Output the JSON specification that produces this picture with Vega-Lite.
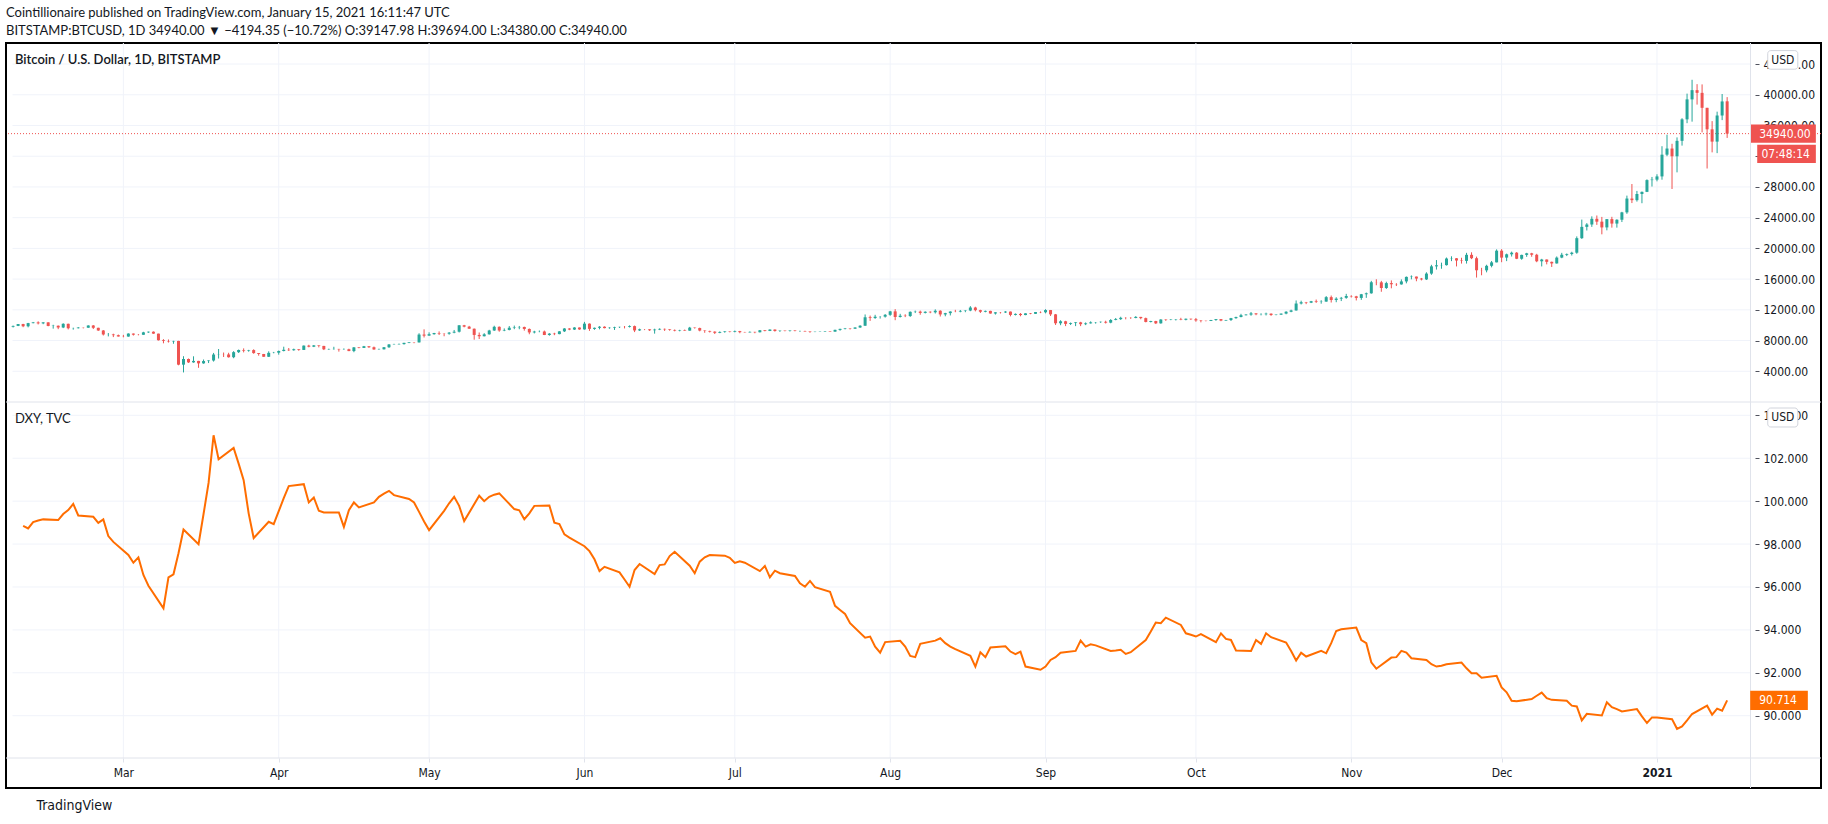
{
  "$schema": "https://vega.github.io/schema/vega-lite/v6.json",
  "width": 1815,
  "height": 745,
  "autosize": {"type": "none"},
  "padding": {"left": 6, "top": 43, "right": 7, "bottom": 36},
  "background": "#ffffff",
  "title": {
    "text": "Cointillionaire published on TradingView.com, January 15, 2021 16:11:47 UTC",
    "subtitle": "BITSTAMP:BTCUSD, 1D  34940.00 ▼ −4194.35 (−10.72%)  O:39147.98  H:39694.00  L:34380.00  C:34940.00",
    "anchor": "start",
    "frame": "group",
    "offset": 5,
    "font": "Lato",
    "fontSize": 13,
    "fontWeight": "normal",
    "color": "#131722",
    "subtitleFont": "Lato",
    "subtitleFontSize": 13,
    "subtitleColor": "#131722",
    "subtitlePadding": 5
  },
  "config": {
    "view": {"stroke": "#000000", "strokeWidth": 2},
    "axis": {
      "labelFont": "DejaVu Sans Condensed",
      "labelFontSize": 12,
      "labelColor": "#131722",
      "grid": false,
      "domain": false,
      "zindex": 0
    }
  },
  "datasets": {
    "btc": [
      {"d":"2020-02-08","o":9800,"h":9950,"l":9700,"c":9905},
      {"d":"2020-02-09","o":9905,"h":10150,"l":9880,"c":10150},
      {"d":"2020-02-10","o":10150,"h":10180,"l":9740,"c":9860},
      {"d":"2020-02-11","o":9860,"h":10300,"l":9720,"c":10270},
      {"d":"2020-02-12","o":10270,"h":10420,"l":10240,"c":10360},
      {"d":"2020-02-13","o":10360,"h":10500,"l":10100,"c":10240},
      {"d":"2020-02-14","o":10240,"h":10390,"l":10130,"c":10370},
      {"d":"2020-02-15","o":10370,"h":10380,"l":9860,"c":9900},
      {"d":"2020-02-16","o":9900,"h":10050,"l":9550,"c":9930},
      {"d":"2020-02-17","o":9930,"h":9960,"l":9480,"c":9700},
      {"d":"2020-02-18","o":9700,"h":10250,"l":9620,"c":10180},
      {"d":"2020-02-19","o":10180,"h":10200,"l":9450,"c":9600},
      {"d":"2020-02-20","o":9600,"h":9680,"l":9420,"c":9610},
      {"d":"2020-02-21","o":9610,"h":9760,"l":9570,"c":9690},
      {"d":"2020-02-22","o":9690,"h":9700,"l":9580,"c":9670},
      {"d":"2020-02-23","o":9670,"h":9990,"l":9660,"c":9960},
      {"d":"2020-02-24","o":9960,"h":10020,"l":9500,"c":9660},
      {"d":"2020-02-25","o":9660,"h":9670,"l":9260,"c":9310},
      {"d":"2020-02-26","o":9310,"h":9370,"l":8660,"c":8790},
      {"d":"2020-02-27","o":8790,"h":8980,"l":8540,"c":8795},
      {"d":"2020-02-28","o":8795,"h":8890,"l":8450,"c":8700},
      {"d":"2020-02-29","o":8700,"h":8780,"l":8520,"c":8530},
      {"d":"2020-03-01","o":8530,"h":8740,"l":8420,"c":8520},
      {"d":"2020-03-02","o":8520,"h":8940,"l":8500,"c":8910},
      {"d":"2020-03-03","o":8910,"h":8920,"l":8650,"c":8760},
      {"d":"2020-03-04","o":8760,"h":8840,"l":8680,"c":8750},
      {"d":"2020-03-05","o":8750,"h":9140,"l":8750,"c":9070},
      {"d":"2020-03-06","o":9070,"h":9170,"l":9000,"c":9150},
      {"d":"2020-03-07","o":9150,"h":9190,"l":8870,"c":8900},
      {"d":"2020-03-08","o":8900,"h":8900,"l":8000,"c":8040},
      {"d":"2020-03-09","o":8040,"h":8180,"l":7640,"c":7940},
      {"d":"2020-03-10","o":7940,"h":8140,"l":7740,"c":7890},
      {"d":"2020-03-11","o":7890,"h":7970,"l":7580,"c":7950},
      {"d":"2020-03-12","o":7950,"h":7970,"l":4780,"c":4860},
      {"d":"2020-03-13","o":4860,"h":5960,"l":3850,"c":5600},
      {"d":"2020-03-14","o":5600,"h":5660,"l":5080,"c":5160},
      {"d":"2020-03-15","o":5160,"h":5950,"l":5110,"c":5350},
      {"d":"2020-03-16","o":5350,"h":5360,"l":4450,"c":5030},
      {"d":"2020-03-17","o":5030,"h":5530,"l":4980,"c":5330},
      {"d":"2020-03-18","o":5330,"h":5430,"l":5070,"c":5400},
      {"d":"2020-03-19","o":5400,"h":6390,"l":5260,"c":6180},
      {"d":"2020-03-20","o":6180,"h":6900,"l":5660,"c":6200},
      {"d":"2020-03-21","o":6200,"h":6440,"l":5860,"c":6190},
      {"d":"2020-03-22","o":6190,"h":6410,"l":5780,"c":5830},
      {"d":"2020-03-23","o":5830,"h":6620,"l":5700,"c":6490},
      {"d":"2020-03-24","o":6490,"h":6830,"l":6380,"c":6770},
      {"d":"2020-03-25","o":6770,"h":6980,"l":6460,"c":6690},
      {"d":"2020-03-26","o":6690,"h":6790,"l":6550,"c":6760},
      {"d":"2020-03-27","o":6760,"h":6860,"l":6280,"c":6370},
      {"d":"2020-03-28","o":6370,"h":6370,"l":6030,"c":6250},
      {"d":"2020-03-29","o":6250,"h":6260,"l":5880,"c":5890},
      {"d":"2020-03-30","o":5890,"h":6600,"l":5860,"c":6400},
      {"d":"2020-03-31","o":6400,"h":6520,"l":6340,"c":6420},
      {"d":"2020-04-01","o":6420,"h":6700,"l":6160,"c":6640},
      {"d":"2020-04-02","o":6640,"h":7200,"l":6590,"c":6800},
      {"d":"2020-04-03","o":6800,"h":7030,"l":6640,"c":6740},
      {"d":"2020-04-04","o":6740,"h":6950,"l":6680,"c":6870},
      {"d":"2020-04-05","o":6870,"h":6890,"l":6670,"c":6780},
      {"d":"2020-04-06","o":6780,"h":7360,"l":6770,"c":7340},
      {"d":"2020-04-07","o":7340,"h":7450,"l":7120,"c":7200},
      {"d":"2020-04-08","o":7200,"h":7420,"l":7150,"c":7370},
      {"d":"2020-04-09","o":7370,"h":7380,"l":7110,"c":7300},
      {"d":"2020-04-10","o":7300,"h":7310,"l":6760,"c":6860},
      {"d":"2020-04-11","o":6860,"h":6950,"l":6780,"c":6890},
      {"d":"2020-04-12","o":6890,"h":7190,"l":6810,"c":6910},
      {"d":"2020-04-13","o":6910,"h":6920,"l":6560,"c":6860},
      {"d":"2020-04-14","o":6860,"h":6980,"l":6790,"c":6870},
      {"d":"2020-04-15","o":6870,"h":6940,"l":6620,"c":6630},
      {"d":"2020-04-16","o":6630,"h":7160,"l":6480,"c":7110},
      {"d":"2020-04-17","o":7110,"h":7150,"l":6990,"c":7040},
      {"d":"2020-04-18","o":7040,"h":7300,"l":7030,"c":7260},
      {"d":"2020-04-19","o":7260,"h":7260,"l":7040,"c":7130},
      {"d":"2020-04-20","o":7130,"h":7220,"l":6800,"c":6840},
      {"d":"2020-04-21","o":6840,"h":6950,"l":6790,"c":6860},
      {"d":"2020-04-22","o":6860,"h":7160,"l":6840,"c":7130},
      {"d":"2020-04-23","o":7130,"h":7550,"l":7040,"c":7490},
      {"d":"2020-04-24","o":7490,"h":7580,"l":7450,"c":7510},
      {"d":"2020-04-25","o":7510,"h":7620,"l":7460,"c":7540},
      {"d":"2020-04-26","o":7540,"h":7710,"l":7470,"c":7700},
      {"d":"2020-04-27","o":7700,"h":7800,"l":7660,"c":7780},
      {"d":"2020-04-28","o":7780,"h":7790,"l":7650,"c":7760},
      {"d":"2020-04-29","o":7760,"h":8950,"l":7740,"c":8780},
      {"d":"2020-04-30","o":8780,"h":9460,"l":8400,"c":8640},
      {"d":"2020-05-01","o":8640,"h":9070,"l":8630,"c":8830},
      {"d":"2020-05-02","o":8830,"h":9000,"l":8760,"c":8980},
      {"d":"2020-05-03","o":8980,"h":9190,"l":8720,"c":8910},
      {"d":"2020-05-04","o":8910,"h":8950,"l":8560,"c":8890},
      {"d":"2020-05-05","o":8890,"h":9110,"l":8760,"c":9030},
      {"d":"2020-05-06","o":9030,"h":9380,"l":8950,"c":9150},
      {"d":"2020-05-07","o":9150,"h":9990,"l":9050,"c":9990},
      {"d":"2020-05-08","o":9990,"h":10040,"l":9720,"c":9810},
      {"d":"2020-05-09","o":9810,"h":9910,"l":9520,"c":9540},
      {"d":"2020-05-10","o":9540,"h":9570,"l":8110,"c":8730},
      {"d":"2020-05-11","o":8730,"h":9050,"l":8200,"c":8560},
      {"d":"2020-05-12","o":8560,"h":8960,"l":8540,"c":8810},
      {"d":"2020-05-13","o":8810,"h":9400,"l":8780,"c":9310},
      {"d":"2020-05-14","o":9310,"h":9930,"l":9260,"c":9790},
      {"d":"2020-05-15","o":9790,"h":9840,"l":9150,"c":9310},
      {"d":"2020-05-16","o":9310,"h":9580,"l":9220,"c":9380},
      {"d":"2020-05-17","o":9380,"h":9890,"l":9330,"c":9670},
      {"d":"2020-05-18","o":9670,"h":9950,"l":9480,"c":9730},
      {"d":"2020-05-19","o":9730,"h":9900,"l":9470,"c":9770},
      {"d":"2020-05-20","o":9770,"h":9810,"l":9290,"c":9510},
      {"d":"2020-05-21","o":9510,"h":9570,"l":8820,"c":9060},
      {"d":"2020-05-22","o":9060,"h":9270,"l":8930,"c":9170},
      {"d":"2020-05-23","o":9170,"h":9310,"l":9080,"c":9180},
      {"d":"2020-05-24","o":9180,"h":9300,"l":8710,"c":8720},
      {"d":"2020-05-25","o":8720,"h":8970,"l":8630,"c":8900},
      {"d":"2020-05-26","o":8900,"h":9010,"l":8700,"c":8840},
      {"d":"2020-05-27","o":8840,"h":9220,"l":8820,"c":9200},
      {"d":"2020-05-28","o":9200,"h":9620,"l":9110,"c":9570},
      {"d":"2020-05-29","o":9570,"h":9610,"l":9350,"c":9430},
      {"d":"2020-05-30","o":9430,"h":9740,"l":9380,"c":9700},
      {"d":"2020-05-31","o":9700,"h":9700,"l":9400,"c":9450},
      {"d":"2020-06-01","o":9450,"h":10430,"l":9420,"c":10200},
      {"d":"2020-06-02","o":10200,"h":10230,"l":9260,"c":9520},
      {"d":"2020-06-03","o":9520,"h":9690,"l":9400,"c":9660},
      {"d":"2020-06-04","o":9660,"h":9880,"l":9460,"c":9800},
      {"d":"2020-06-05","o":9800,"h":9850,"l":9590,"c":9620},
      {"d":"2020-06-06","o":9620,"h":9730,"l":9540,"c":9670},
      {"d":"2020-06-07","o":9670,"h":9800,"l":9380,"c":9750},
      {"d":"2020-06-08","o":9750,"h":9800,"l":9640,"c":9780},
      {"d":"2020-06-09","o":9780,"h":9890,"l":9580,"c":9775},
      {"d":"2020-06-10","o":9775,"h":9980,"l":9700,"c":9880},
      {"d":"2020-06-11","o":9880,"h":9950,"l":9100,"c":9320},
      {"d":"2020-06-12","o":9320,"h":9550,"l":9250,"c":9470},
      {"d":"2020-06-13","o":9470,"h":9490,"l":9360,"c":9465},
      {"d":"2020-06-14","o":9465,"h":9480,"l":9250,"c":9340},
      {"d":"2020-06-15","o":9340,"h":9540,"l":8900,"c":9430},
      {"d":"2020-06-16","o":9430,"h":9590,"l":9360,"c":9520},
      {"d":"2020-06-17","o":9520,"h":9560,"l":9250,"c":9460},
      {"d":"2020-06-18","o":9460,"h":9480,"l":9280,"c":9380},
      {"d":"2020-06-19","o":9380,"h":9440,"l":9200,"c":9300},
      {"d":"2020-06-20","o":9300,"h":9400,"l":9200,"c":9360},
      {"d":"2020-06-21","o":9360,"h":9430,"l":9280,"c":9290},
      {"d":"2020-06-22","o":9290,"h":9780,"l":9280,"c":9680},
      {"d":"2020-06-23","o":9680,"h":9700,"l":9560,"c":9630},
      {"d":"2020-06-24","o":9630,"h":9680,"l":9200,"c":9300},
      {"d":"2020-06-25","o":9300,"h":9330,"l":9010,"c":9250},
      {"d":"2020-06-26","o":9250,"h":9280,"l":9050,"c":9160},
      {"d":"2020-06-27","o":9160,"h":9200,"l":8850,"c":9010},
      {"d":"2020-06-28","o":9010,"h":9190,"l":8960,"c":9120},
      {"d":"2020-06-29","o":9120,"h":9230,"l":9020,"c":9190},
      {"d":"2020-06-30","o":9190,"h":9200,"l":9070,"c":9140},
      {"d":"2020-07-01","o":9140,"h":9300,"l":9070,"c":9230},
      {"d":"2020-07-02","o":9230,"h":9260,"l":8950,"c":9090},
      {"d":"2020-07-03","o":9090,"h":9130,"l":9040,"c":9060},
      {"d":"2020-07-04","o":9060,"h":9190,"l":9050,"c":9130},
      {"d":"2020-07-05","o":9130,"h":9140,"l":8950,"c":9080},
      {"d":"2020-07-06","o":9080,"h":9370,"l":9060,"c":9340},
      {"d":"2020-07-07","o":9340,"h":9360,"l":9200,"c":9250},
      {"d":"2020-07-08","o":9250,"h":9460,"l":9230,"c":9430},
      {"d":"2020-07-09","o":9430,"h":9450,"l":9160,"c":9240},
      {"d":"2020-07-10","o":9240,"h":9310,"l":9120,"c":9290},
      {"d":"2020-07-11","o":9290,"h":9300,"l":9200,"c":9240},
      {"d":"2020-07-12","o":9240,"h":9340,"l":9170,"c":9300},
      {"d":"2020-07-13","o":9300,"h":9350,"l":9200,"c":9240},
      {"d":"2020-07-14","o":9240,"h":9280,"l":9120,"c":9250},
      {"d":"2020-07-15","o":9250,"h":9270,"l":9160,"c":9190},
      {"d":"2020-07-16","o":9190,"h":9200,"l":9010,"c":9130},
      {"d":"2020-07-17","o":9130,"h":9180,"l":9090,"c":9150},
      {"d":"2020-07-18","o":9150,"h":9200,"l":9120,"c":9170},
      {"d":"2020-07-19","o":9170,"h":9240,"l":9120,"c":9210},
      {"d":"2020-07-20","o":9210,"h":9220,"l":9130,"c":9160},
      {"d":"2020-07-21","o":9160,"h":9420,"l":9150,"c":9390},
      {"d":"2020-07-22","o":9390,"h":9540,"l":9280,"c":9520},
      {"d":"2020-07-23","o":9520,"h":9640,"l":9450,"c":9580},
      {"d":"2020-07-24","o":9580,"h":9620,"l":9440,"c":9540},
      {"d":"2020-07-25","o":9540,"h":9730,"l":9520,"c":9700},
      {"d":"2020-07-26","o":9700,"h":10000,"l":9650,"c":9930},
      {"d":"2020-07-27","o":9930,"h":11400,"l":9920,"c":11030},
      {"d":"2020-07-28","o":11030,"h":11250,"l":10560,"c":10930},
      {"d":"2020-07-29","o":10930,"h":11350,"l":10830,"c":11100},
      {"d":"2020-07-30","o":11100,"h":11180,"l":10860,"c":11110},
      {"d":"2020-07-31","o":11110,"h":11450,"l":10990,"c":11350},
      {"d":"2020-08-01","o":11350,"h":11860,"l":11220,"c":11800},
      {"d":"2020-08-02","o":11800,"h":12090,"l":10650,"c":11070},
      {"d":"2020-08-03","o":11070,"h":11480,"l":11000,"c":11230},
      {"d":"2020-08-04","o":11230,"h":11420,"l":11050,"c":11190},
      {"d":"2020-08-05","o":11190,"h":11790,"l":11080,"c":11740},
      {"d":"2020-08-06","o":11740,"h":11900,"l":11580,"c":11770},
      {"d":"2020-08-07","o":11770,"h":11900,"l":11360,"c":11600},
      {"d":"2020-08-08","o":11600,"h":11800,"l":11530,"c":11750},
      {"d":"2020-08-09","o":11750,"h":11800,"l":11560,"c":11680},
      {"d":"2020-08-10","o":11680,"h":12060,"l":11520,"c":11880},
      {"d":"2020-08-11","o":11880,"h":11940,"l":11130,"c":11400},
      {"d":"2020-08-12","o":11400,"h":11610,"l":11160,"c":11570},
      {"d":"2020-08-13","o":11570,"h":11800,"l":11270,"c":11780},
      {"d":"2020-08-14","o":11780,"h":12000,"l":11690,"c":11770},
      {"d":"2020-08-15","o":11770,"h":11980,"l":11680,"c":11860},
      {"d":"2020-08-16","o":11860,"h":11940,"l":11690,"c":11910},
      {"d":"2020-08-17","o":11910,"h":12480,"l":11820,"c":12300},
      {"d":"2020-08-18","o":12300,"h":12400,"l":11800,"c":11960},
      {"d":"2020-08-19","o":11960,"h":12010,"l":11590,"c":11750},
      {"d":"2020-08-20","o":11750,"h":11900,"l":11680,"c":11860},
      {"d":"2020-08-21","o":11860,"h":11880,"l":11500,"c":11520},
      {"d":"2020-08-22","o":11520,"h":11690,"l":11380,"c":11680},
      {"d":"2020-08-23","o":11680,"h":11710,"l":11520,"c":11660},
      {"d":"2020-08-24","o":11660,"h":11830,"l":11590,"c":11770},
      {"d":"2020-08-25","o":11770,"h":11780,"l":11150,"c":11340},
      {"d":"2020-08-26","o":11340,"h":11530,"l":11270,"c":11470},
      {"d":"2020-08-27","o":11470,"h":11580,"l":11160,"c":11320},
      {"d":"2020-08-28","o":11320,"h":11550,"l":11300,"c":11540},
      {"d":"2020-08-29","o":11540,"h":11580,"l":11430,"c":11480},
      {"d":"2020-08-30","o":11480,"h":11720,"l":11460,"c":11710},
      {"d":"2020-08-31","o":11710,"h":11790,"l":11570,"c":11680},
      {"d":"2020-09-01","o":11680,"h":12080,"l":11540,"c":11970},
      {"d":"2020-09-02","o":11970,"h":11980,"l":11200,"c":11410},
      {"d":"2020-09-03","o":11410,"h":11460,"l":10030,"c":10250},
      {"d":"2020-09-04","o":10250,"h":10640,"l":10000,"c":10510},
      {"d":"2020-09-05","o":10510,"h":10570,"l":9880,"c":10170},
      {"d":"2020-09-06","o":10170,"h":10350,"l":10020,"c":10280},
      {"d":"2020-09-07","o":10280,"h":10400,"l":9880,"c":10370},
      {"d":"2020-09-08","o":10370,"h":10440,"l":9880,"c":10130},
      {"d":"2020-09-09","o":10130,"h":10360,"l":10010,"c":10240},
      {"d":"2020-09-10","o":10240,"h":10500,"l":10210,"c":10370},
      {"d":"2020-09-11","o":10370,"h":10410,"l":10200,"c":10400},
      {"d":"2020-09-12","o":10400,"h":10480,"l":10300,"c":10440},
      {"d":"2020-09-13","o":10440,"h":10580,"l":10220,"c":10330},
      {"d":"2020-09-14","o":10330,"h":10790,"l":10250,"c":10680},
      {"d":"2020-09-15","o":10680,"h":10940,"l":10640,"c":10790},
      {"d":"2020-09-16","o":10790,"h":11100,"l":10680,"c":10960},
      {"d":"2020-09-17","o":10960,"h":11040,"l":10760,"c":10950},
      {"d":"2020-09-18","o":10950,"h":11040,"l":10820,"c":10940},
      {"d":"2020-09-19","o":10940,"h":11180,"l":10900,"c":11080},
      {"d":"2020-09-20","o":11080,"h":11080,"l":10770,"c":10920},
      {"d":"2020-09-21","o":10920,"h":10990,"l":10370,"c":10420},
      {"d":"2020-09-22","o":10420,"h":10570,"l":10360,"c":10540},
      {"d":"2020-09-23","o":10540,"h":10570,"l":10150,"c":10240},
      {"d":"2020-09-24","o":10240,"h":10780,"l":10200,"c":10740},
      {"d":"2020-09-25","o":10740,"h":10770,"l":10560,"c":10690},
      {"d":"2020-09-26","o":10690,"h":10800,"l":10650,"c":10730},
      {"d":"2020-09-27","o":10730,"h":10800,"l":10610,"c":10770},
      {"d":"2020-09-28","o":10770,"h":10960,"l":10650,"c":10700},
      {"d":"2020-09-29","o":10700,"h":10860,"l":10630,"c":10840},
      {"d":"2020-09-30","o":10840,"h":10850,"l":10670,"c":10780},
      {"d":"2020-10-01","o":10780,"h":10940,"l":10450,"c":10620},
      {"d":"2020-10-02","o":10620,"h":10670,"l":10370,"c":10570},
      {"d":"2020-10-03","o":10570,"h":10600,"l":10500,"c":10550},
      {"d":"2020-10-04","o":10550,"h":10690,"l":10540,"c":10670},
      {"d":"2020-10-05","o":10670,"h":10800,"l":10580,"c":10790},
      {"d":"2020-10-06","o":10790,"h":10800,"l":10520,"c":10600},
      {"d":"2020-10-07","o":10600,"h":10690,"l":10570,"c":10670},
      {"d":"2020-10-08","o":10670,"h":10950,"l":10550,"c":10920},
      {"d":"2020-10-09","o":10920,"h":11110,"l":10830,"c":11060},
      {"d":"2020-10-10","o":11060,"h":11480,"l":11030,"c":11300},
      {"d":"2020-10-11","o":11300,"h":11440,"l":11270,"c":11380},
      {"d":"2020-10-12","o":11380,"h":11720,"l":11230,"c":11540},
      {"d":"2020-10-13","o":11540,"h":11560,"l":11300,"c":11420},
      {"d":"2020-10-14","o":11420,"h":11550,"l":11280,"c":11430},
      {"d":"2020-10-15","o":11430,"h":11630,"l":11270,"c":11500},
      {"d":"2020-10-16","o":11500,"h":11540,"l":11220,"c":11320},
      {"d":"2020-10-17","o":11320,"h":11400,"l":11300,"c":11370},
      {"d":"2020-10-18","o":11370,"h":11520,"l":11350,"c":11510},
      {"d":"2020-10-19","o":11510,"h":11820,"l":11420,"c":11750},
      {"d":"2020-10-20","o":11750,"h":12020,"l":11690,"c":11920},
      {"d":"2020-10-21","o":11920,"h":13220,"l":11900,"c":12820},
      {"d":"2020-10-22","o":12820,"h":13190,"l":12700,"c":12990},
      {"d":"2020-10-23","o":12990,"h":13030,"l":12740,"c":12930},
      {"d":"2020-10-24","o":12930,"h":13160,"l":12880,"c":13120},
      {"d":"2020-10-25","o":13120,"h":13340,"l":12900,"c":13040},
      {"d":"2020-10-26","o":13040,"h":13250,"l":12800,"c":13070},
      {"d":"2020-10-27","o":13070,"h":13790,"l":13060,"c":13650},
      {"d":"2020-10-28","o":13650,"h":13860,"l":12950,"c":13280},
      {"d":"2020-10-29","o":13280,"h":13640,"l":12990,"c":13460},
      {"d":"2020-10-30","o":13460,"h":13680,"l":13140,"c":13560},
      {"d":"2020-10-31","o":13560,"h":14080,"l":13440,"c":13800},
      {"d":"2020-11-01","o":13800,"h":13900,"l":13600,"c":13760},
      {"d":"2020-11-02","o":13760,"h":13820,"l":13220,"c":13550},
      {"d":"2020-11-03","o":13550,"h":14070,"l":13300,"c":14030},
      {"d":"2020-11-04","o":14030,"h":14250,"l":13560,"c":14150},
      {"d":"2020-11-05","o":14150,"h":15770,"l":14100,"c":15590},
      {"d":"2020-11-06","o":15590,"h":15980,"l":15200,"c":15580},
      {"d":"2020-11-07","o":15580,"h":15770,"l":14350,"c":14840},
      {"d":"2020-11-08","o":14840,"h":15660,"l":14720,"c":15480},
      {"d":"2020-11-09","o":15480,"h":15830,"l":14800,"c":15330},
      {"d":"2020-11-10","o":15330,"h":15470,"l":15100,"c":15310},
      {"d":"2020-11-11","o":15310,"h":15960,"l":15280,"c":15700},
      {"d":"2020-11-12","o":15700,"h":16340,"l":15450,"c":16290},
      {"d":"2020-11-13","o":16290,"h":16480,"l":15970,"c":16330},
      {"d":"2020-11-14","o":16330,"h":16330,"l":15720,"c":16070},
      {"d":"2020-11-15","o":16070,"h":16150,"l":15830,"c":15960},
      {"d":"2020-11-16","o":15960,"h":16890,"l":15880,"c":16720},
      {"d":"2020-11-17","o":16720,"h":17860,"l":16560,"c":17660},
      {"d":"2020-11-18","o":17660,"h":18480,"l":17240,"c":17800},
      {"d":"2020-11-19","o":17800,"h":18140,"l":17350,"c":17820},
      {"d":"2020-11-20","o":17820,"h":18810,"l":17760,"c":18680},
      {"d":"2020-11-21","o":18680,"h":18970,"l":18340,"c":18710},
      {"d":"2020-11-22","o":18710,"h":18740,"l":17650,"c":18420},
      {"d":"2020-11-23","o":18420,"h":18780,"l":18020,"c":18370},
      {"d":"2020-11-24","o":18370,"h":19420,"l":18020,"c":19160},
      {"d":"2020-11-25","o":19160,"h":19490,"l":18600,"c":18720},
      {"d":"2020-11-26","o":18720,"h":18930,"l":16200,"c":17150},
      {"d":"2020-11-27","o":17150,"h":17470,"l":16500,"c":17140},
      {"d":"2020-11-28","o":17140,"h":17870,"l":16880,"c":17730},
      {"d":"2020-11-29","o":17730,"h":18360,"l":17530,"c":18180},
      {"d":"2020-11-30","o":18180,"h":19870,"l":18180,"c":19700},
      {"d":"2020-12-01","o":19700,"h":19900,"l":18200,"c":18800},
      {"d":"2020-12-02","o":18800,"h":19320,"l":18340,"c":19230},
      {"d":"2020-12-03","o":19230,"h":19580,"l":18940,"c":19440},
      {"d":"2020-12-04","o":19440,"h":19520,"l":18600,"c":18650},
      {"d":"2020-12-05","o":18650,"h":19180,"l":18520,"c":19150},
      {"d":"2020-12-06","o":19150,"h":19420,"l":18900,"c":19360},
      {"d":"2020-12-07","o":19360,"h":19420,"l":18910,"c":19170},
      {"d":"2020-12-08","o":19170,"h":19290,"l":18200,"c":18320},
      {"d":"2020-12-09","o":18320,"h":18640,"l":17650,"c":18550},
      {"d":"2020-12-10","o":18550,"h":18560,"l":17920,"c":18250},
      {"d":"2020-12-11","o":18250,"h":18280,"l":17580,"c":18040},
      {"d":"2020-12-12","o":18040,"h":18950,"l":18020,"c":18800},
      {"d":"2020-12-13","o":18800,"h":19420,"l":18720,"c":19170},
      {"d":"2020-12-14","o":19170,"h":19340,"l":19000,"c":19270},
      {"d":"2020-12-15","o":19270,"h":19560,"l":19070,"c":19440},
      {"d":"2020-12-16","o":19440,"h":21560,"l":19300,"c":21330},
      {"d":"2020-12-17","o":21330,"h":23750,"l":21230,"c":22800},
      {"d":"2020-12-18","o":22800,"h":23290,"l":22330,"c":23110},
      {"d":"2020-12-19","o":23110,"h":24170,"l":22800,"c":23850},
      {"d":"2020-12-20","o":23850,"h":24280,"l":23060,"c":23480},
      {"d":"2020-12-21","o":23480,"h":24100,"l":21830,"c":22730},
      {"d":"2020-12-22","o":22730,"h":23820,"l":22350,"c":23810},
      {"d":"2020-12-23","o":23810,"h":24110,"l":22700,"c":23230},
      {"d":"2020-12-24","o":23230,"h":23790,"l":22700,"c":23730},
      {"d":"2020-12-25","o":23730,"h":24760,"l":23430,"c":24690},
      {"d":"2020-12-26","o":24690,"h":26870,"l":24500,"c":26490},
      {"d":"2020-12-27","o":26490,"h":28380,"l":25900,"c":26280},
      {"d":"2020-12-28","o":26280,"h":27480,"l":26090,"c":27080},
      {"d":"2020-12-29","o":27080,"h":27400,"l":25880,"c":27360},
      {"d":"2020-12-30","o":27360,"h":28990,"l":27330,"c":28890},
      {"d":"2020-12-31","o":28890,"h":29300,"l":28050,"c":28950},
      {"d":"2021-01-01","o":28950,"h":29650,"l":28730,"c":29370},
      {"d":"2021-01-02","o":29370,"h":33300,"l":28940,"c":32200},
      {"d":"2021-01-03","o":32200,"h":34800,"l":32000,"c":33000},
      {"d":"2021-01-04","o":33000,"h":33620,"l":27730,"c":31990},
      {"d":"2021-01-05","o":31990,"h":34450,"l":29900,"c":34000},
      {"d":"2021-01-06","o":34000,"h":36950,"l":33380,"c":36800},
      {"d":"2021-01-07","o":36800,"h":40150,"l":36300,"c":39400},
      {"d":"2021-01-08","o":39400,"h":41950,"l":36500,"c":40600},
      {"d":"2021-01-09","o":40600,"h":41380,"l":38720,"c":40250},
      {"d":"2021-01-10","o":40250,"h":41350,"l":35100,"c":38300},
      {"d":"2021-01-11","o":38300,"h":38300,"l":30400,"c":35500},
      {"d":"2021-01-12","o":35500,"h":36570,"l":32500,"c":33900},
      {"d":"2021-01-13","o":33900,"h":37800,"l":32400,"c":37300},
      {"d":"2021-01-14","o":37300,"h":40100,"l":36700,"c":39130},
      {"d":"2021-01-15","o":39147.98,"h":39694,"l":34380,"c":34940}
    ],
    "dxy": [
      {"d":"2020-02-10","v":98.85},{"d":"2020-02-11","v":98.73},{"d":"2020-02-12","v":99.02},{"d":"2020-02-13","v":99.10},{"d":"2020-02-14","v":99.15},
      {"d":"2020-02-17","v":99.12},{"d":"2020-02-18","v":99.40},{"d":"2020-02-19","v":99.58},{"d":"2020-02-20","v":99.87},{"d":"2020-02-21","v":99.33},
      {"d":"2020-02-24","v":99.27},{"d":"2020-02-25","v":98.99},{"d":"2020-02-26","v":99.15},{"d":"2020-02-27","v":98.37},{"d":"2020-02-28","v":98.10},
      {"d":"2020-03-02","v":97.49},{"d":"2020-03-03","v":97.13},{"d":"2020-03-04","v":97.38},{"d":"2020-03-05","v":96.56},{"d":"2020-03-06","v":96.06},
      {"d":"2020-03-09","v":95.01},{"d":"2020-03-10","v":96.45},{"d":"2020-03-11","v":96.59},{"d":"2020-03-12","v":97.57},{"d":"2020-03-13","v":98.68},
      {"d":"2020-03-16","v":97.99},{"d":"2020-03-17","v":99.40},{"d":"2020-03-18","v":100.85},{"d":"2020-03-19","v":103.07},{"d":"2020-03-20","v":101.95},
      {"d":"2020-03-23","v":102.48},{"d":"2020-03-24","v":101.75},{"d":"2020-03-25","v":100.98},{"d":"2020-03-26","v":99.43},{"d":"2020-03-27","v":98.28},
      {"d":"2020-03-30","v":99.04},{"d":"2020-03-31","v":98.93},{"d":"2020-04-01","v":99.53},{"d":"2020-04-02","v":100.14},{"d":"2020-04-03","v":100.70},
      {"d":"2020-04-06","v":100.79},{"d":"2020-04-07","v":99.94},{"d":"2020-04-08","v":100.17},{"d":"2020-04-09","v":99.55},{"d":"2020-04-10","v":99.47},
      {"d":"2020-04-13","v":99.47},{"d":"2020-04-14","v":98.80},{"d":"2020-04-15","v":99.58},{"d":"2020-04-16","v":99.94},{"d":"2020-04-17","v":99.71},
      {"d":"2020-04-20","v":99.94},{"d":"2020-04-21","v":100.20},{"d":"2020-04-22","v":100.35},{"d":"2020-04-23","v":100.48},{"d":"2020-04-24","v":100.28},
      {"d":"2020-04-27","v":100.10},{"d":"2020-04-28","v":99.94},{"d":"2020-04-29","v":99.50},{"d":"2020-04-30","v":99.05},{"d":"2020-05-01","v":98.65},
      {"d":"2020-05-04","v":99.55},{"d":"2020-05-05","v":99.90},{"d":"2020-05-06","v":100.20},{"d":"2020-05-07","v":99.78},{"d":"2020-05-08","v":99.07},
      {"d":"2020-05-11","v":100.25},{"d":"2020-05-12","v":100.00},{"d":"2020-05-13","v":100.20},{"d":"2020-05-14","v":100.30},{"d":"2020-05-15","v":100.36},
      {"d":"2020-05-18","v":99.63},{"d":"2020-05-19","v":99.57},{"d":"2020-05-20","v":99.16},{"d":"2020-05-21","v":99.43},{"d":"2020-05-22","v":99.78},
      {"d":"2020-05-25","v":99.80},{"d":"2020-05-26","v":99.00},{"d":"2020-05-27","v":98.93},{"d":"2020-05-28","v":98.45},{"d":"2020-05-29","v":98.30},
      {"d":"2020-06-01","v":97.90},{"d":"2020-06-02","v":97.67},{"d":"2020-06-03","v":97.29},{"d":"2020-06-04","v":96.74},{"d":"2020-06-05","v":96.94},
      {"d":"2020-06-08","v":96.68},{"d":"2020-06-09","v":96.35},{"d":"2020-06-10","v":96.01},{"d":"2020-06-11","v":96.79},{"d":"2020-06-12","v":97.07},
      {"d":"2020-06-15","v":96.60},{"d":"2020-06-16","v":97.02},{"d":"2020-06-17","v":97.05},{"d":"2020-06-18","v":97.44},{"d":"2020-06-19","v":97.64},
      {"d":"2020-06-22","v":96.99},{"d":"2020-06-23","v":96.64},{"d":"2020-06-24","v":97.18},{"d":"2020-06-25","v":97.38},{"d":"2020-06-26","v":97.49},
      {"d":"2020-06-29","v":97.46},{"d":"2020-06-30","v":97.36},{"d":"2020-07-01","v":97.12},{"d":"2020-07-02","v":97.20},{"d":"2020-07-03","v":97.13},
      {"d":"2020-07-06","v":96.74},{"d":"2020-07-07","v":96.98},{"d":"2020-07-08","v":96.45},{"d":"2020-07-09","v":96.76},{"d":"2020-07-10","v":96.64},
      {"d":"2020-07-13","v":96.51},{"d":"2020-07-14","v":96.17},{"d":"2020-07-15","v":96.01},{"d":"2020-07-16","v":96.28},{"d":"2020-07-17","v":95.99},
      {"d":"2020-07-20","v":95.78},{"d":"2020-07-21","v":95.12},{"d":"2020-07-22","v":94.93},{"d":"2020-07-23","v":94.74},{"d":"2020-07-24","v":94.31},
      {"d":"2020-07-27","v":93.64},{"d":"2020-07-28","v":93.69},{"d":"2020-07-29","v":93.22},{"d":"2020-07-30","v":92.94},{"d":"2020-07-31","v":93.43},
      {"d":"2020-08-03","v":93.49},{"d":"2020-08-04","v":93.22},{"d":"2020-08-05","v":92.79},{"d":"2020-08-06","v":92.73},{"d":"2020-08-07","v":93.35},
      {"d":"2020-08-10","v":93.50},{"d":"2020-08-11","v":93.61},{"d":"2020-08-12","v":93.38},{"d":"2020-08-13","v":93.22},{"d":"2020-08-14","v":93.10},
      {"d":"2020-08-17","v":92.79},{"d":"2020-08-18","v":92.29},{"d":"2020-08-19","v":92.96},{"d":"2020-08-20","v":92.73},{"d":"2020-08-21","v":93.18},
      {"d":"2020-08-24","v":93.24},{"d":"2020-08-25","v":92.99},{"d":"2020-08-26","v":92.87},{"d":"2020-08-27","v":92.99},{"d":"2020-08-28","v":92.29},
      {"d":"2020-08-31","v":92.14},{"d":"2020-09-01","v":92.29},{"d":"2020-09-02","v":92.60},{"d":"2020-09-03","v":92.73},{"d":"2020-09-04","v":92.94},
      {"d":"2020-09-07","v":93.02},{"d":"2020-09-08","v":93.50},{"d":"2020-09-09","v":93.22},{"d":"2020-09-10","v":93.33},{"d":"2020-09-11","v":93.28},
      {"d":"2020-09-14","v":93.02},{"d":"2020-09-15","v":93.04},{"d":"2020-09-16","v":93.07},{"d":"2020-09-17","v":92.88},{"d":"2020-09-18","v":92.96},
      {"d":"2020-09-21","v":93.53},{"d":"2020-09-22","v":93.92},{"d":"2020-09-23","v":94.34},{"d":"2020-09-24","v":94.31},{"d":"2020-09-25","v":94.57},
      {"d":"2020-09-28","v":94.23},{"d":"2020-09-29","v":93.84},{"d":"2020-09-30","v":93.77},{"d":"2020-10-01","v":93.69},{"d":"2020-10-02","v":93.80},
      {"d":"2020-10-05","v":93.43},{"d":"2020-10-06","v":93.84},{"d":"2020-10-07","v":93.58},{"d":"2020-10-08","v":93.53},{"d":"2020-10-09","v":93.04},
      {"d":"2020-10-12","v":93.02},{"d":"2020-10-13","v":93.53},{"d":"2020-10-14","v":93.35},{"d":"2020-10-15","v":93.84},{"d":"2020-10-16","v":93.66},
      {"d":"2020-10-19","v":93.41},{"d":"2020-10-20","v":93.02},{"d":"2020-10-21","v":92.57},{"d":"2020-10-22","v":92.94},{"d":"2020-10-23","v":92.76},
      {"d":"2020-10-26","v":93.02},{"d":"2020-10-27","v":92.91},{"d":"2020-10-28","v":93.38},{"d":"2020-10-29","v":93.95},{"d":"2020-10-30","v":94.03},
      {"d":"2020-11-02","v":94.11},{"d":"2020-11-03","v":93.53},{"d":"2020-11-04","v":93.38},{"d":"2020-11-05","v":92.49},{"d":"2020-11-06","v":92.19},
      {"d":"2020-11-09","v":92.71},{"d":"2020-11-10","v":92.73},{"d":"2020-11-11","v":93.02},{"d":"2020-11-12","v":92.94},{"d":"2020-11-13","v":92.68},
      {"d":"2020-11-16","v":92.60},{"d":"2020-11-17","v":92.40},{"d":"2020-11-18","v":92.29},{"d":"2020-11-19","v":92.33},{"d":"2020-11-20","v":92.40},
      {"d":"2020-11-23","v":92.48},{"d":"2020-11-24","v":92.21},{"d":"2020-11-25","v":91.98},{"d":"2020-11-26","v":91.98},{"d":"2020-11-27","v":91.77},
      {"d":"2020-11-30","v":91.86},{"d":"2020-12-01","v":91.32},{"d":"2020-12-02","v":91.09},{"d":"2020-12-03","v":90.70},{"d":"2020-12-04","v":90.67},
      {"d":"2020-12-07","v":90.78},{"d":"2020-12-08","v":90.93},{"d":"2020-12-09","v":91.08},{"d":"2020-12-10","v":90.82},{"d":"2020-12-11","v":90.74},
      {"d":"2020-12-14","v":90.70},{"d":"2020-12-15","v":90.47},{"d":"2020-12-16","v":90.43},{"d":"2020-12-17","v":89.78},{"d":"2020-12-18","v":90.09},
      {"d":"2020-12-21","v":90.01},{"d":"2020-12-22","v":90.63},{"d":"2020-12-23","v":90.40},{"d":"2020-12-24","v":90.31},{"d":"2020-12-25","v":90.20},
      {"d":"2020-12-28","v":90.31},{"d":"2020-12-29","v":89.97},{"d":"2020-12-30","v":89.66},{"d":"2020-12-31","v":89.92},{"d":"2021-01-01","v":89.92},
      {"d":"2021-01-04","v":89.84},{"d":"2021-01-05","v":89.39},{"d":"2021-01-06","v":89.50},{"d":"2021-01-07","v":89.78},{"d":"2021-01-08","v":90.08},
      {"d":"2021-01-11","v":90.47},{"d":"2021-01-12","v":90.05},{"d":"2021-01-13","v":90.33},{"d":"2021-01-14","v":90.23},{"d":"2021-01-15","v":90.714}
    ],
    "months": [
      {"m":"2020-03-01"},{"m":"2020-04-01"},{"m":"2020-05-01"},{"m":"2020-06-01"},{"m":"2020-07-01"},{"m":"2020-08-01"},
      {"m":"2020-09-01"},{"m":"2020-10-01"},{"m":"2020-11-01"},{"m":"2020-12-01"},{"m":"2021-01-01"}
    ],
    "btcGrid": [
      {"v":4000},{"v":8000},{"v":12000},{"v":16000},{"v":20000},{"v":24000},{"v":28000},{"v":32000},{"v":36000},{"v":40000},{"v":44000}
    ],
    "dxyGrid": [
      {"v":90},{"v":92},{"v":94},{"v":96},{"v":98},{"v":100},{"v":102},{"v":104}
    ],
    "last": [
      {"price": 34940, "priceText": "34940.00", "timer": "07:48:14", "dxy": 90.714, "dxyText": "90.714", "btcName": "Bitcoin / U.S. Dollar, 1D, BITSTAMP", "dxyName": "DXY, TVC", "cur": "USD"}
    ]
  },
  "resolve": {"scale": {"y": "independent"}, "axis": {"y": "independent"}},
  "layer": [
    {
      "layer": [
        {
          "data": {"name": "btcGrid"},
          "mark": {"type": "rule", "color": "#f0f3fa", "strokeWidth": 1},
          "encoding": {
            "y": {"field": "v", "type": "quantitative"},
            "x": {"datum": {"year": 2020, "month": 2, "date": 7, "hours": 21, "minutes": 7, "utc": true}, "type": "temporal"},
            "x2": {"datum": {"year": 2021, "month": 1, "date": 19, "hours": 15, "minutes": 50, "utc": true}}
          }
        },
        {
          "data": {"name": "months"},
          "mark": {"type": "rule", "color": "#f0f3fa", "strokeWidth": 1},
          "encoding": {
            "x": {"field": "m", "type": "temporal"},
            "y": {"datum": 0, "type": "quantitative"},
            "y2": {"datum": 46740}
          }
        },
        {
          "data": {"name": "last"},
          "mark": {"type": "rule", "color": "#e0e3eb", "strokeWidth": 1},
          "encoding": {
            "y": {"datum": 0, "type": "quantitative"}
          }
        },
        {
          "data": {"name": "last"},
          "mark": {"type": "rule", "color": "#ef5350", "strokeWidth": 1, "strokeDash": [1, 2]},
          "encoding": {
            "y": {"field": "price", "type": "quantitative"}
          }
        },
        {
          "data": {"name": "btc"},
          "mark": {"type": "rule", "strokeWidth": 1},
          "encoding": {
            "x": {
              "field": "d",
              "type": "temporal",
              "scale": {
                "type": "utc",
                "domain": [
                  {"year": 2020, "month": 2, "date": 7, "hours": 21, "minutes": 7, "utc": true},
                  {"year": 2021, "month": 1, "date": 19, "hours": 15, "minutes": 50, "utc": true}
                ],
                "range": [1.5, 1749.5]
              },
              "axis": {
                "orient": "bottom",
                "offset": -30,
                "title": "TradingView",
                "titleX": 30,
                "titleY": 47,
                "titleAlign": "left",
                "titleBaseline": "middle",
                "titleFont": "DejaVu Sans Condensed",
                "titleFontSize": 14,
                "titleFontWeight": "normal",
                "titleColor": "#131722",
                "values": [
                  {"year": 2020, "month": 3, "date": 1, "utc": true},
                  {"year": 2020, "month": 4, "date": 1, "utc": true},
                  {"year": 2020, "month": 5, "date": 1, "utc": true},
                  {"year": 2020, "month": 6, "date": 1, "utc": true},
                  {"year": 2020, "month": 7, "date": 1, "utc": true},
                  {"year": 2020, "month": 8, "date": 1, "utc": true},
                  {"year": 2020, "month": 9, "date": 1, "utc": true},
                  {"year": 2020, "month": 10, "date": 1, "utc": true},
                  {"year": 2020, "month": 11, "date": 1, "utc": true},
                  {"year": 2020, "month": 12, "date": 1, "utc": true},
                  {"year": 2021, "month": 1, "date": 1, "utc": true}
                ],
                "labelExpr": "utcFormat(datum.value, utcmonth(datum.value) == 0 ? '%Y' : '%b')",
                "labelFontWeight": {"condition": {"test": "utcmonth(datum.value) == 0", "value": "bold"}, "value": "normal"},
                "labelPadding": 5,
                "labelFlush": false,
                "labelOverlap": false,
                "tickSize": 4,
                "tickColor": "#e0e3eb"
              }
            },
            "y": {
              "field": "l",
              "type": "quantitative",
              "scale": {"domain": [0, 46740], "range": [359, 0], "nice": false, "zero": false},
              "axis": {
                "orient": "right",
                "offset": -66,
                "title": null,
                "values": [4000, 8000, 12000, 16000, 20000, 24000, 28000, 32000, 36000, 40000, 44000],
                "format": ".2f",
                "tickSize": 4,
                "tickColor": "#50535e",
                "labelPadding": 4
              }
            },
            "y2": {"field": "h"},
            "color": {"condition": {"test": "datum.c >= datum.o", "value": "#26a69a"}, "value": "#ef5350"}
          }
        },
        {
          "data": {"name": "btc"},
          "mark": {"type": "bar", "width": 3},
          "encoding": {
            "x": {"field": "d", "type": "temporal"},
            "y": {"field": "o", "type": "quantitative"},
            "y2": {"field": "c"},
            "color": {"condition": {"test": "datum.c >= datum.o", "value": "#26a69a"}, "value": "#ef5350"}
          }
        },
        {
          "data": {"name": "last"},
          "mark": {"type": "text", "align": "left", "baseline": "middle", "font": "Lato", "fontSize": 13, "fontWeight": 600, "color": "#131722"},
          "encoding": {
            "x": {"datum": {"year": 2020, "month": 2, "date": 8, "hours": 9, "utc": true}, "type": "temporal"},
            "y": {"datum": 44590, "type": "quantitative"},
            "text": {"field": "btcName"}
          }
        },
        {
          "data": {"name": "last"},
          "mark": {"type": "rect", "color": "#ef5350"},
          "encoding": {
            "x": {"datum": {"year": 2021, "month": 1, "date": 19, "hours": 14, "minutes": 24, "utc": true}, "type": "temporal"},
            "x2": {"datum": {"year": 2021, "month": 2, "date": 1, "hours": 16, "minutes": 48, "utc": true}},
            "y": {"datum": 33750, "type": "quantitative"},
            "y2": {"datum": 36130}
          }
        },
        {
          "data": {"name": "last"},
          "mark": {"type": "rect", "color": "#ef5350"},
          "encoding": {
            "x": {"datum": {"year": 2021, "month": 1, "date": 21, "utc": true}, "type": "temporal"},
            "x2": {"datum": {"year": 2021, "month": 2, "date": 1, "hours": 16, "minutes": 48, "utc": true}},
            "y": {"datum": 31130, "type": "quantitative"},
            "y2": {"datum": 33480}
          }
        },
        {
          "data": {"name": "last"},
          "mark": {"type": "text", "align": "left", "baseline": "middle", "font": "DejaVu Sans Condensed", "fontSize": 12, "color": "#ffffff"},
          "encoding": {
            "x": {"datum": {"year": 2021, "month": 1, "date": 21, "hours": 9, "minutes": 36, "utc": true}, "type": "temporal"},
            "y": {"field": "price", "type": "quantitative"},
            "text": {"field": "priceText"}
          }
        },
        {
          "data": {"name": "last"},
          "mark": {"type": "text", "align": "left", "baseline": "middle", "font": "DejaVu Sans Condensed", "fontSize": 12, "color": "#ffffff"},
          "encoding": {
            "x": {"datum": {"year": 2021, "month": 1, "date": 21, "hours": 20, "utc": true}, "type": "temporal"},
            "y": {"datum": 32305, "type": "quantitative"},
            "text": {"field": "timer"}
          }
        },
        {
          "data": {"name": "last"},
          "mark": {"type": "rect", "fill": "#ffffff", "stroke": "#d1d4dc", "strokeWidth": 1, "cornerRadius": 3},
          "encoding": {
            "x": {"datum": {"year": 2021, "month": 1, "date": 23, "hours": 2, "minutes": 24, "utc": true}, "type": "temporal"},
            "x2": {"datum": {"year": 2021, "month": 1, "date": 29, "hours": 2, "minutes": 24, "utc": true}},
            "y": {"datum": 43330, "type": "quantitative"},
            "y2": {"datum": 45750}
          }
        },
        {
          "data": {"name": "last"},
          "mark": {"type": "text", "align": "center", "baseline": "middle", "font": "DejaVu Sans Condensed", "fontSize": 12, "color": "#131722"},
          "encoding": {
            "x": {"datum": {"year": 2021, "month": 1, "date": 26, "hours": 2, "minutes": 24, "utc": true}, "type": "temporal"},
            "y": {"datum": 44540, "type": "quantitative"},
            "text": {"field": "cur"}
          }
        }
      ]
    },
    {
      "layer": [
        {
          "data": {"name": "dxyGrid"},
          "mark": {"type": "rule", "color": "#f0f3fa", "strokeWidth": 1},
          "encoding": {
            "y": {"field": "v", "type": "quantitative"},
            "x": {"datum": {"year": 2020, "month": 2, "date": 7, "hours": 21, "minutes": 7, "utc": true}, "type": "temporal"},
            "x2": {"datum": {"year": 2021, "month": 1, "date": 19, "hours": 15, "minutes": 50, "utc": true}}
          }
        },
        {
          "data": {"name": "months"},
          "mark": {"type": "rule", "color": "#f0f3fa", "strokeWidth": 1},
          "encoding": {
            "x": {"field": "m", "type": "temporal"},
            "y": {"datum": 88.03, "type": "quantitative"},
            "y2": {"datum": 104.62}
          }
        },
        {
          "data": {"name": "last"},
          "mark": {"type": "rule", "color": "#e0e3eb", "strokeWidth": 1},
          "encoding": {
            "y": {"datum": 88.03, "type": "quantitative"}
          }
        },
        {
          "data": {"name": "last"},
          "mark": {"type": "rule", "color": "#e0e3eb", "strokeWidth": 1},
          "encoding": {
            "x": {"datum": {"year": 2021, "month": 1, "date": 19, "hours": 15, "minutes": 50, "utc": true}, "type": "temporal"}
          }
        },
        {
          "data": {"name": "dxy"},
          "mark": {"type": "line", "color": "#ff6d00", "strokeWidth": 2, "interpolate": "linear"},
          "encoding": {
            "x": {"field": "d", "type": "temporal"},
            "y": {
              "field": "v",
              "type": "quantitative",
              "scale": {"domain": [88.03, 104.62], "range": [715, 359], "nice": false, "zero": false},
              "axis": {
                "orient": "right",
                "offset": -66,
                "title": null,
                "values": [90, 92, 94, 96, 98, 100, 102, 104],
                "format": ".3f",
                "tickSize": 4,
                "tickColor": "#50535e",
                "labelPadding": 4
              }
            }
          }
        },
        {
          "data": {"name": "last"},
          "mark": {"type": "text", "align": "left", "baseline": "middle", "font": "Lato", "fontSize": 13, "color": "#131722"},
          "encoding": {
            "x": {"datum": {"year": 2020, "month": 2, "date": 8, "hours": 9, "utc": true}, "type": "temporal"},
            "y": {"datum": 103.84, "type": "quantitative"},
            "text": {"field": "dxyName"}
          }
        },
        {
          "data": {"name": "last"},
          "mark": {"type": "rect", "color": "#ff6d00"},
          "encoding": {
            "x": {"datum": {"year": 2021, "month": 1, "date": 19, "hours": 14, "minutes": 24, "utc": true}, "type": "temporal"},
            "x2": {"datum": {"year": 2021, "month": 1, "date": 31, "hours": 2, "minutes": 24, "utc": true}},
            "y": {"datum": 90.27, "type": "quantitative"},
            "y2": {"datum": 91.16}
          }
        },
        {
          "data": {"name": "last"},
          "mark": {"type": "text", "align": "left", "baseline": "middle", "font": "DejaVu Sans Condensed", "fontSize": 12, "color": "#ffffff"},
          "encoding": {
            "x": {"datum": {"year": 2021, "month": 1, "date": 21, "hours": 9, "minutes": 36, "utc": true}, "type": "temporal"},
            "y": {"field": "dxy", "type": "quantitative"},
            "text": {"field": "dxyText"}
          }
        },
        {
          "data": {"name": "last"},
          "mark": {"type": "rect", "fill": "#ffffff", "stroke": "#d1d4dc", "strokeWidth": 1, "cornerRadius": 3},
          "encoding": {
            "x": {"datum": {"year": 2021, "month": 1, "date": 23, "hours": 2, "minutes": 24, "utc": true}, "type": "temporal"},
            "x2": {"datum": {"year": 2021, "month": 1, "date": 29, "hours": 2, "minutes": 24, "utc": true}},
            "y": {"datum": 103.455, "type": "quantitative"},
            "y2": {"datum": 104.34}
          }
        },
        {
          "data": {"name": "last"},
          "mark": {"type": "text", "align": "center", "baseline": "middle", "font": "DejaVu Sans Condensed", "fontSize": 12, "color": "#131722"},
          "encoding": {
            "x": {"datum": {"year": 2021, "month": 1, "date": 26, "hours": 2, "minutes": 24, "utc": true}, "type": "temporal"},
            "y": {"datum": 103.9, "type": "quantitative"},
            "text": {"field": "cur"}
          }
        }
      ]
    }
  ]
}
